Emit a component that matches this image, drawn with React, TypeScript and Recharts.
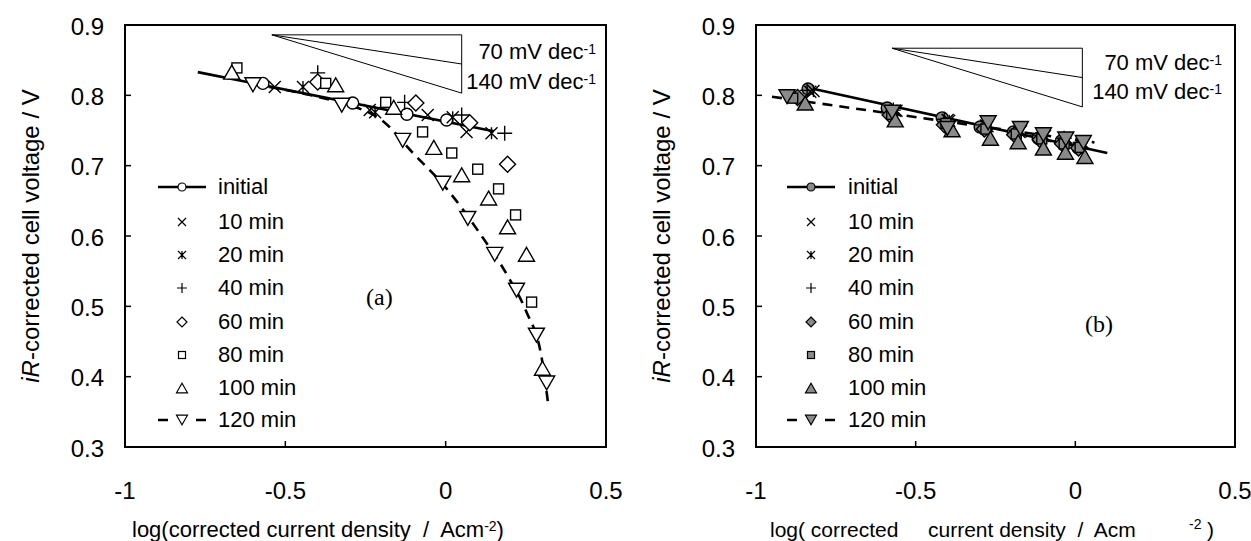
import React from "react";
import {
  ComposedChart,
  Line,
  ReferenceArea,
  ReferenceLine,
  Scatter,
  XAxis,
  YAxis,
} from "recharts";

type Pt = [number, number];

// ---- panel (a): log(i) vs iR-corrected voltage ----
const aInitial: Pt[] = [[-0.570, 0.817], [-0.290, 0.789], [-0.121, 0.773], [0.003, 0.765]];
const a10: Pt[] = [[-0.533, 0.812], [-0.237, 0.779], [-0.056, 0.772], [0.065, 0.748]];
const a20: Pt[] = [[-0.445, 0.812], [-0.22, 0.776], [0.022, 0.769], [0.143, 0.746]];
const a40: Pt[] = [[-0.399, 0.832], [-0.128, 0.79], [0.05, 0.772], [0.184, 0.746]];
const a60: Pt[] = [[-0.399, 0.819], [-0.093, 0.789], [0.075, 0.761], [0.193, 0.702]];
const a80: Pt[] = [[-0.651, 0.839], [-0.374, 0.817], [-0.187, 0.79], [-0.072, 0.748], [0.019, 0.718], [0.10, 0.695], [0.165, 0.667], [0.218, 0.63], [0.268, 0.506]];
const a100: Pt[] = [[-0.667, 0.833], [-0.343, 0.815], [-0.162, 0.783], [-0.037, 0.726], [0.05, 0.687], [0.134, 0.654], [0.193, 0.613], [0.252, 0.574], [0.302, 0.412]];
const a120: Pt[] = [[-0.601, 0.815], [-0.324, 0.786], [-0.134, 0.736], [-0.009, 0.675], [0.069, 0.625], [0.153, 0.574], [0.221, 0.523], [0.283, 0.459], [0.315, 0.391]];
const aInitialFit: Pt[] = [[-0.773, 0.833], [0.15, 0.749]];
const a120Fit: Pt[] = [[-0.55, 0.812], [-0.4, 0.798], [-0.3, 0.786], [-0.2, 0.765], [-0.1, 0.717], [0, 0.669], [0.1, 0.608], [0.2, 0.538], [0.25, 0.494], [0.3, 0.425], [0.32, 0.36]];

// ---- panel (b) ----
const bInitial: Pt[] = [[-0.837, 0.809], [-0.589, 0.782], [-0.417, 0.768], [-0.298, 0.755], [-0.194, 0.748], [-0.116, 0.739], [-0.044, 0.735], [0.009, 0.725]];
const b10: Pt[] = [[-0.83, 0.805], [-0.565, 0.778], [-0.40, 0.765], [-0.28, 0.757], [-0.175, 0.748], [-0.1, 0.742], [-0.03, 0.737], [0.02, 0.731]];
const b20: Pt[] = [[-0.82, 0.806], [-0.56, 0.778], [-0.395, 0.764], [-0.275, 0.756], [-0.17, 0.749], [-0.095, 0.742], [-0.025, 0.738], [0.025, 0.732]];
const b40: Pt[] = [[-0.84, 0.807], [-0.57, 0.779], [-0.41, 0.766], [-0.29, 0.758], [-0.185, 0.75], [-0.105, 0.743], [-0.035, 0.739], [0.015, 0.733]];
const b60: Pt[] = [[-0.87, 0.797], [-0.58, 0.772], [-0.41, 0.758], [-0.285, 0.752], [-0.19, 0.744], [-0.11, 0.737], [-0.04, 0.731], [0.01, 0.725]];
const b80: Pt[] = [[-0.885, 0.796], [-0.575, 0.773], [-0.405, 0.76], [-0.28, 0.752], [-0.185, 0.745], [-0.105, 0.738], [-0.035, 0.731], [0.015, 0.726]];
const b100: Pt[] = [[-0.846, 0.789], [-0.564, 0.765], [-0.386, 0.751], [-0.266, 0.739], [-0.179, 0.734], [-0.1, 0.725], [-0.031, 0.719], [0.03, 0.713]];
const b120: Pt[] = [[-0.903, 0.798], [-0.574, 0.776], [-0.401, 0.753], [-0.273, 0.761], [-0.172, 0.753], [-0.1, 0.744], [-0.03, 0.738], [0.025, 0.733]];
const bInitialFit: Pt[] = [[-0.84, 0.811], [0.1, 0.718]];
const b120Fit: Pt[] = [[-0.95, 0.798], [0.06, 0.733]];

const xTicks = [-1, -0.5, 0, 0.5];
const yTicks = [0.3, 0.4, 0.5, 0.6, 0.7, 0.8, 0.9];
const seriesNames = ["initial", "10 min", "20 min", "40 min", "60 min", "80 min", "100 min", "120 min"];
const markerKinds = ["circle", "x", "star", "plus", "diamond", "square", "tri", "tridown"];
const slopeLabels = ["70 mV dec", "140 mV dec"];
const tafelSlopes = [0.07, 0.14];

const FONT = "'Liberation Sans', Arial, sans-serif";
const H = 541;
const TOP = 25;
const BOTTOM = 447;
const ROWS = [187, 222, 255, 288, 322, 355, 388, 420];

const plotSize = [12, 12, 12, 15, 16, 10, 16, 16];
const legendSize = [8, 8, 8, 10, 10, 7, 11, 11];
const hollow = ["x", "star", "plus"];

const toRows = (pts: Pt[]) => pts.map(([x, y]) => ({ x, y }));

function Marker({ kind, cx, cy, size, fill, sw = 1.3 }: { kind: string; cx: number; cy: number; size: number; fill: string; sw?: number }) {
  const s = size / 2;
  const st = { stroke: "#000", strokeWidth: sw, fill: hollow.includes(kind) ? "none" : fill };
  switch (kind) {
    case "circle":
      return <circle cx={cx} cy={cy} r={s} {...st} />;
    case "x":
      return <path d={`M${cx - s},${cy - s}L${cx + s},${cy + s}M${cx - s},${cy + s}L${cx + s},${cy - s}`} {...st} />;
    case "star":
      return <path d={`M${cx - s},${cy - s}L${cx + s},${cy + s}M${cx - s},${cy + s}L${cx + s},${cy - s}M${cx},${cy - s}L${cx},${cy + s}`} {...st} />;
    case "plus":
      return <path d={`M${cx - s},${cy}L${cx + s},${cy}M${cx},${cy - s}L${cx},${cy + s}`} {...st} />;
    case "diamond":
      return <path d={`M${cx},${cy - s}L${cx + s},${cy}L${cx},${cy + s}L${cx - s},${cy}Z`} {...st} />;
    case "square":
      return <rect x={cx - s} y={cy - s} width={size} height={size} {...st} />;
    case "tri": {
      const h = size * 0.87;
      return <path d={`M${cx},${cy - h / 2}L${cx + s},${cy + h / 2}L${cx - s},${cy + h / 2}Z`} {...st} />;
    }
    default: {
      const h = size * 0.87;
      return <path d={`M${cx},${cy + h / 2}L${cx + s},${cy - h / 2}L${cx - s},${cy - h / 2}Z`} {...st} />;
    }
  }
}

const XTick = (p: any) => (
  <g>
    <line x1={p.x} x2={p.x} y1={p.y} y2={p.y - 6} stroke="#000" strokeWidth={1.5} />
    <text x={p.x} y={p.y + 43} textAnchor="middle" dominantBaseline="central" fontSize={24} fontFamily={FONT} fill="#000">
      {String(p.payload.value)}
    </text>
  </g>
);

const YTick = (p: any) => (
  <g>
    <line x1={p.x} x2={p.x + 6} y1={p.y} y2={p.y} stroke="#000" strokeWidth={1.5} />
    <text x={p.x - 21} y={p.y + 1} textAnchor="end" dominantBaseline="central" fontSize={24} fontFamily={FONT} fill="#000">
      {Number(p.payload.value).toFixed(1)}
    </text>
  </g>
);

function Legend({ symLeft, textLeft, fill }: { symLeft: number; textLeft: number; fill: string }) {
  return (
    <>
      {seriesNames.map((name, i) => (
        <div key={name}>
          <svg style={{ position: "absolute", left: symLeft, top: ROWS[i] - 10 }} width={48} height={20}>
            {i === 0 && <line x1={0} x2={48} y1={10} y2={10} stroke="#000" strokeWidth={2.5} />}
            {i === 7 && <path d="M0,10H10M38,10H48" stroke="#000" strokeWidth={2.5} />}
            <Marker kind={markerKinds[i]} cx={24} cy={10} size={legendSize[i]} fill={fill} sw={1.2} />
          </svg>
          <div style={{ position: "absolute", left: textLeft, top: ROWS[i] - 13, fontSize: 22, lineHeight: "26px", fontFamily: FONT, whiteSpace: "pre" }}>
            {name}
          </div>
        </div>
      ))}
    </>
  );
}

function SlopeText({ right, tops }: { right: number; tops: number[] }) {
  return (
    <>
      {slopeLabels.map((t, i) => (
        <div key={t} style={{ position: "absolute", right: 1251 - right, top: tops[i] - 13, fontSize: 22, lineHeight: "26px", fontFamily: FONT, whiteSpace: "pre" }}>
          {t}
          <sup style={{ fontSize: 14, verticalAlign: "top", position: "relative", top: -3 }}>-1</sup>
        </div>
      ))}
    </>
  );
}

function Panel(props: {
  left: number;
  width: number;
  plotLeft: number;
  plotRight: number;
  series: Pt[][];
  fill: string;
  solidFit: Pt[];
  dashedFit: Pt[];
  slope: { x0: number; x1: number; y0: number };
}) {
  const { left, width, plotLeft, plotRight, series, fill, solidFit, dashedFit, slope } = props;
  const { x0, x1, y0 } = slope;
  return (
    <div style={{ position: "absolute", left, top: 0 }}>
      <ComposedChart
        width={width}
        height={H}
        margin={{ top: TOP, bottom: 0, left: 0, right: left + width - plotRight }}
      >
        <XAxis type="number" dataKey="x" domain={[-1, 0.5]} ticks={xTicks} interval={0} height={H - BOTTOM} axisLine={false} tickLine={false} tickSize={0} tickMargin={0} tick={XTick} />
        <YAxis type="number" dataKey="y" domain={[0.3, 0.9]} ticks={yTicks} interval={0} width={plotLeft - left} axisLine={false} tickLine={false} tickSize={0} tickMargin={0} tick={YTick} />
        <ReferenceArea x1={-1} x2={0.5} y1={0.3} y2={0.9} fill="none" fillOpacity={0} stroke="#000" strokeWidth={2} ifOverflow="visible" />
        <ReferenceLine segment={[{ x: x0, y: y0 }, { x: x1, y: y0 }]} stroke="#000" strokeWidth={1} ifOverflow="visible" />
        {tafelSlopes.map((k) => (
          <ReferenceLine key={k} segment={[{ x: x0, y: y0 }, { x: x1, y: y0 - k * (x1 - x0) }]} stroke="#000" strokeWidth={1} ifOverflow="visible" />
        ))}
        <ReferenceLine segment={[{ x: x1, y: y0 }, { x: x1, y: y0 - tafelSlopes[1] * (x1 - x0) }]} stroke="#000" strokeWidth={1} ifOverflow="visible" />
        {series.map((pts, i) => (
          <Scatter
            key={seriesNames[i]}
            name={seriesNames[i]}
            data={toRows(pts)}
            isAnimationActive={false}
            shape={(p: any) => <Marker kind={markerKinds[i]} cx={p.cx} cy={p.cy} size={plotSize[i]} fill={fill} sw={1.4} />}
          />
        ))}
        <Line data={toRows(solidFit)} dataKey="y" type="linear" stroke="#000" strokeWidth={2.6} dot={false} activeDot={false} isAnimationActive={false} />
        <Line data={toRows(dashedFit)} dataKey="y" type="monotone" stroke="#000" strokeWidth={2.6} strokeDasharray="10 7" dot={false} activeDot={false} isAnimationActive={false} />
      </ComposedChart>
    </div>
  );
}

function YTitle({ cx }: { cx: number }) {
  return (
    <div
      style={{
        position: "absolute",
        left: cx,
        top: 236,
        transform: "translate(-50%, -50%) rotate(-90deg)",
        fontSize: 24,
        fontFamily: FONT,
        whiteSpace: "nowrap",
        lineHeight: "28px",
      }}
    >
      <i>iR</i>-corrected cell voltage / V
    </div>
  );
}

const txt = (left: number, top: number, size: number): React.CSSProperties => ({
  position: "absolute",
  left,
  top,
  fontSize: size,
  lineHeight: `${size + 4}px`,
  fontFamily: FONT,
  whiteSpace: "pre",
});

export default function App() {
  return (
    <div style={{ position: "absolute", left: 0, top: 0, width: 1251, height: 541, background: "#fff", overflow: "hidden" }}>
      <Panel
        left={0}
        width={631}
        plotLeft={125}
        plotRight={606}
        series={[aInitial, a10, a20, a40, a60, a80, a100, a120]}
        fill="#fff"
        solidFit={aInitialFit}
        dashedFit={a120Fit}
        slope={{ x0: -0.542, x1: 0.05, y0: 0.886 }}
      />
      <Panel
        left={631}
        width={620}
        plotLeft={756}
        plotRight={1235}
        series={[bInitial, b10, b20, b40, b60, b80, b100, b120]}
        fill="#8a8a8a"
        solidFit={bInitialFit}
        dashedFit={b120Fit}
        slope={{ x0: -0.574, x1: 0.022, y0: 0.867 }}
      />

      <Legend symLeft={158} textLeft={218} fill="#fff" />
      <Legend symLeft={787} textLeft={848} fill="#8a8a8a" />

      <SlopeText right={596} tops={[52, 82]} />
      <SlopeText right={1222} tops={[63, 92]} />

      <div style={{ ...txt(366, 283, 24), fontFamily: "'Liberation Serif', 'Times New Roman', serif" }}>(a)</div>
      <div style={{ ...txt(1085, 310, 24), fontFamily: "'Liberation Serif', 'Times New Roman', serif" }}>(b)</div>

      <YTitle cx={31} />
      <YTitle cx={662} />

      <div style={txt(132, 517, 22)}>
        log(corrected current density  /  Acm
        <sup style={{ fontSize: 14, verticalAlign: "top", position: "relative", top: -4 }}>-2</sup>)
      </div>

      <div style={txt(770, 517, 21)}>log( corrected</div>
      <div style={txt(928, 517, 21)}>current density  /  Acm</div>
      <div style={txt(1189, 515, 14)}>-2</div>
      <div style={txt(1207, 517, 21)}>)</div>
    </div>
  );
}
